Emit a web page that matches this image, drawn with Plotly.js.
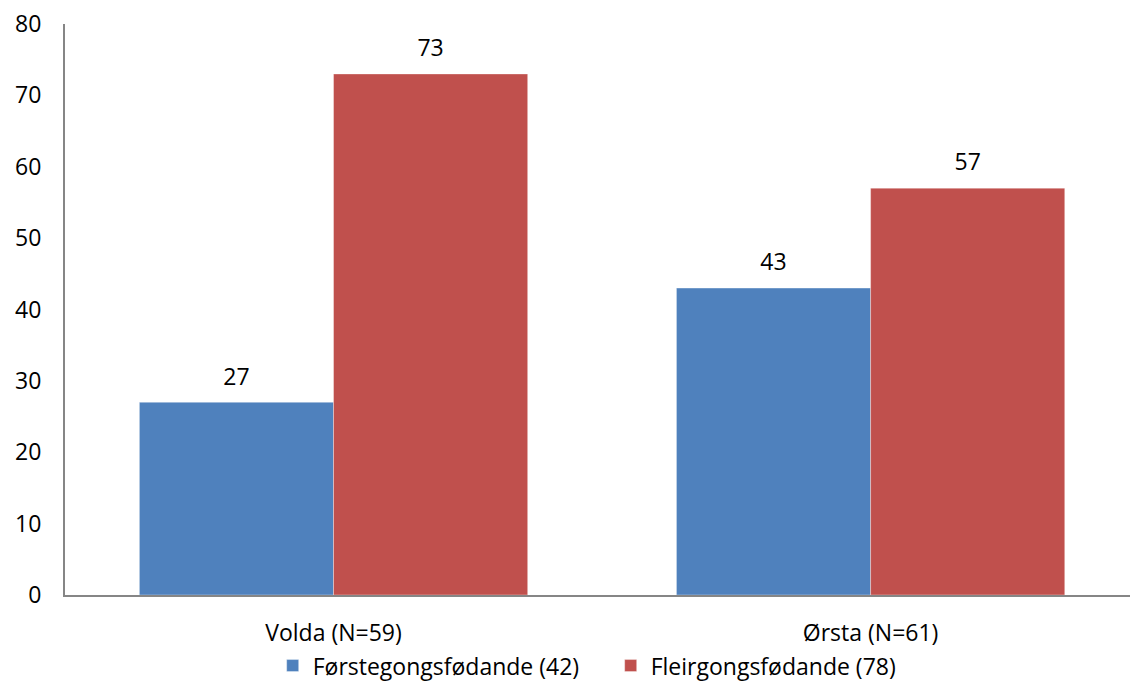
<!DOCTYPE html>
<html><head><meta charset="utf-8">
<script src="https://cdn.plot.ly/plotly-3.0.1.min.js"></script>
<style>body{margin:0;background:#fff}#c{width:1130px;height:700px}</style>
</head><body><div id="c"></div>
<script>
const categories = ["Volda (N=59)", "Ørsta (N=61)"];
const seriesNames = ["Førstegongsfødande (42)", "Fleirgongsfødande (78)"];
const forstegongs = [27, 43];
const fleirgongs = [73, 57];
const colors = ["#4F81BD", "#C0504D"];
const font = "'Open Sans', sans-serif";
const fs = 23;

function tr(name, vals, col){
  return {type:'bar', name:name, x:categories, y:vals,
    text:vals.map(v => "<span style='font-size:" + fs + "px'>" + v + "</span><br> "),
    textposition:'outside', cliponaxis:false, constraintext:'none',
    textfont:{family:font,size:9,color:'#000'},
    marker:{color:col, line:{color:'rgba(255,255,255,0.35)', width:1}}, hoverinfo:'none'};
}
const data = [tr(seriesNames[0], forstegongs, colors[0]), tr(seriesNames[1], fleirgongs, colors[1])];
const layout = {
  width:1130, height:700, paper_bgcolor:'#fff', plot_bgcolor:'#fff',
  margin:{l:65, r:0, t:24, b:105},
  barmode:'group', bargap:0.277, bargroupgap:0,
  font:{family:font, size:fs, color:'#000'},
  showlegend:true,
  legend:{orientation:'h', x:0.195, xanchor:'left', y:-0.086, yanchor:'top', bgcolor:'rgba(0,0,0,0)', font:{family:font,size:fs,color:'#000'}, itemwidth:30, entrywidth:293, traceorder:'normal'},
  xaxis:{range:[-0.5,1.483], showgrid:false, showline:true, linecolor:'#868686', linewidth:2, ticks:'', ticklabelstandoff:16, tickfont:{family:font,size:fs}},
  yaxis:{range:[0,80], dtick:10, showgrid:false, showline:true, linecolor:'#868686', linewidth:2, ticks:'', ticklabelstandoff:17, zeroline:false, tickfont:{family:font,size:fs}}
};
Plotly.newPlot('c', data, layout, {staticPlot:true});
</script></body></html>
